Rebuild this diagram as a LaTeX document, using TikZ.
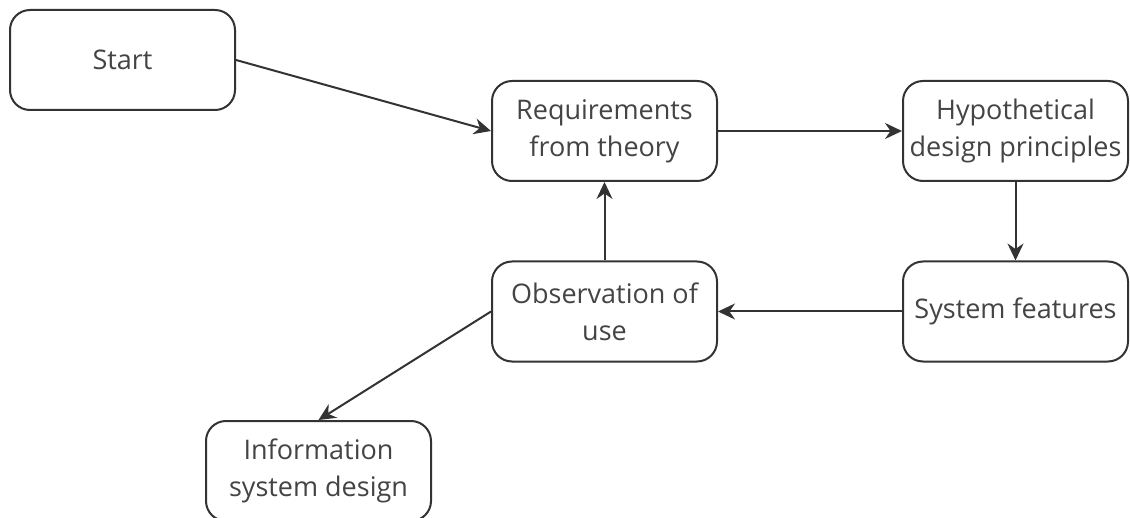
\documentclass[tikz,border=0pt]{standalone}
\usepackage{fontspec}
\setmainfont{Open Sans}
\usetikzlibrary{arrows.meta}
\definecolor{edge}{HTML}{333333}
\definecolor{label}{HTML}{444444}

\begin{document}
\begin{tikzpicture}[x=0.5pt,y=-0.5pt,
  box/.style={draw=edge,line width=1pt,rounded corners=10pt,fill=white,
    minimum width=112.5pt,minimum height=50pt,inner sep=0pt,align=center,
    text=label,font=\fontsize{13.5}{18.5}\selectfont},
  flow/.style={edge,line width=1pt,-{Stealth[length=8.5pt,width=8pt]}}]
  \useasboundingbox (0,0) rectangle (1130,518);
  % steps
  \node[box] (start) at (122.5,60) {Start};
  \node[box] (req)   at (604.5,131) {Requirements\\from theory};
  \node[box] (hyp)   at (1015.5,131) {Hypothetical\\design principles};
  \node[box] (obs)   at (604.5,311.5) {Observation of\\use};
  \node[box] (feat)  at (1015.5,311.5) {System features};
  \node[box] (info)  at (318.5,471) {Information\\system design};
  % arrows
  \draw[flow] (start.east) -- (req.west);
  \draw[flow] (req.east) -- (hyp.west);
  \draw[flow] (hyp.south) -- (feat.north);
  \draw[flow] (feat.west) -- (obs.east);
  \draw[flow] (obs.north) -- (req.south);
  \draw[flow] (obs.west) -- (info.north);
\end{tikzpicture}
\end{document}
